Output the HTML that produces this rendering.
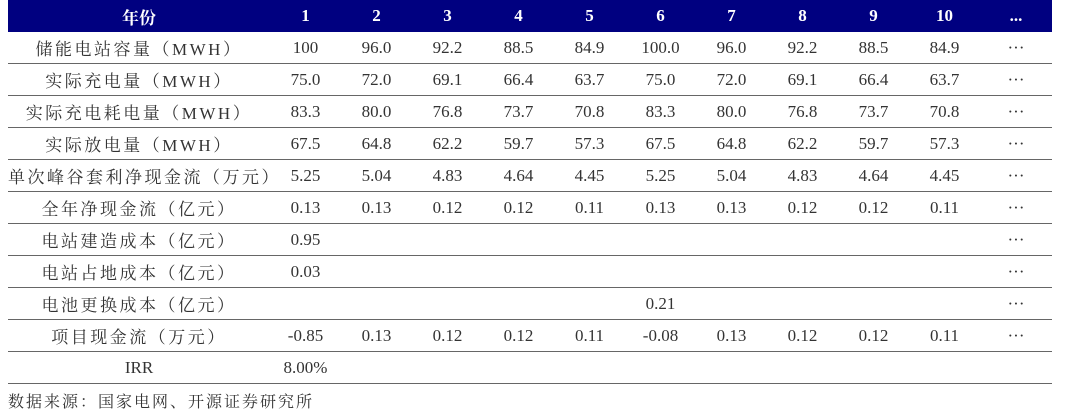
<!DOCTYPE html>
<html><head><meta charset="utf-8"><style>
body{margin:0;width:1080px;height:419px;background:#fff;overflow:hidden;font-family:"Liberation Serif","Noto Serif CJK SC",serif;color:#333}
table{position:absolute;left:8px;top:0;border-collapse:collapse;table-layout:fixed;width:1044px}
td,th{padding:0;text-align:center;font-size:17px;height:31px;border-bottom:1px solid #666;white-space:nowrap}
th{background:#000080;color:#fff;font-weight:bold;height:32px;border-bottom:none;font-size:17px}
td.l{letter-spacing:2.5px}
.src{position:absolute;left:8px;top:389px;font-size:16px;letter-spacing:2px}
</style></head><body>
<table>
<colgroup><col style="width:262px"><col style="width:71px"><col style="width:71px"><col style="width:71px"><col style="width:71px"><col style="width:71px"><col style="width:71px"><col style="width:71px"><col style="width:71px"><col style="width:71px"><col style="width:71px"><col style="width:72px"></colgroup>
<tr><th>年份</th><th>1</th><th>2</th><th>3</th><th>4</th><th>5</th><th>6</th><th>7</th><th>8</th><th>9</th><th>10</th><th>...</th></tr>
<tr><td class="l">储能电站容量（MWH）</td><td>100</td><td>96.0</td><td>92.2</td><td>88.5</td><td>84.9</td><td>100.0</td><td>96.0</td><td>92.2</td><td>88.5</td><td>84.9</td><td>···</td></tr>
<tr><td class="l">实际充电量（MWH）</td><td>75.0</td><td>72.0</td><td>69.1</td><td>66.4</td><td>63.7</td><td>75.0</td><td>72.0</td><td>69.1</td><td>66.4</td><td>63.7</td><td>···</td></tr>
<tr><td class="l">实际充电耗电量（MWH）</td><td>83.3</td><td>80.0</td><td>76.8</td><td>73.7</td><td>70.8</td><td>83.3</td><td>80.0</td><td>76.8</td><td>73.7</td><td>70.8</td><td>···</td></tr>
<tr><td class="l">实际放电量（MWH）</td><td>67.5</td><td>64.8</td><td>62.2</td><td>59.7</td><td>57.3</td><td>67.5</td><td>64.8</td><td>62.2</td><td>59.7</td><td>57.3</td><td>···</td></tr>
<tr><td class="l">单次峰谷套利净现金流（万元）</td><td>5.25</td><td>5.04</td><td>4.83</td><td>4.64</td><td>4.45</td><td>5.25</td><td>5.04</td><td>4.83</td><td>4.64</td><td>4.45</td><td>···</td></tr>
<tr><td class="l">全年净现金流（亿元）</td><td>0.13</td><td>0.13</td><td>0.12</td><td>0.12</td><td>0.11</td><td>0.13</td><td>0.13</td><td>0.12</td><td>0.12</td><td>0.11</td><td>···</td></tr>
<tr><td class="l">电站建造成本（亿元）</td><td>0.95</td><td></td><td></td><td></td><td></td><td></td><td></td><td></td><td></td><td></td><td>···</td></tr>
<tr><td class="l">电站占地成本（亿元）</td><td>0.03</td><td></td><td></td><td></td><td></td><td></td><td></td><td></td><td></td><td></td><td>···</td></tr>
<tr><td class="l">电池更换成本（亿元）</td><td></td><td></td><td></td><td></td><td></td><td>0.21</td><td></td><td></td><td></td><td></td><td>···</td></tr>
<tr><td class="l">项目现金流（万元）</td><td>-0.85</td><td>0.13</td><td>0.12</td><td>0.12</td><td>0.11</td><td>-0.08</td><td>0.13</td><td>0.12</td><td>0.12</td><td>0.11</td><td>···</td></tr>
<tr><td>IRR</td><td>8.00%</td><td></td><td></td><td></td><td></td><td></td><td></td><td></td><td></td><td></td><td></td></tr>
</table>
<div class="src">数据来源：国家电网、开源证券研究所</div>
</body></html>
